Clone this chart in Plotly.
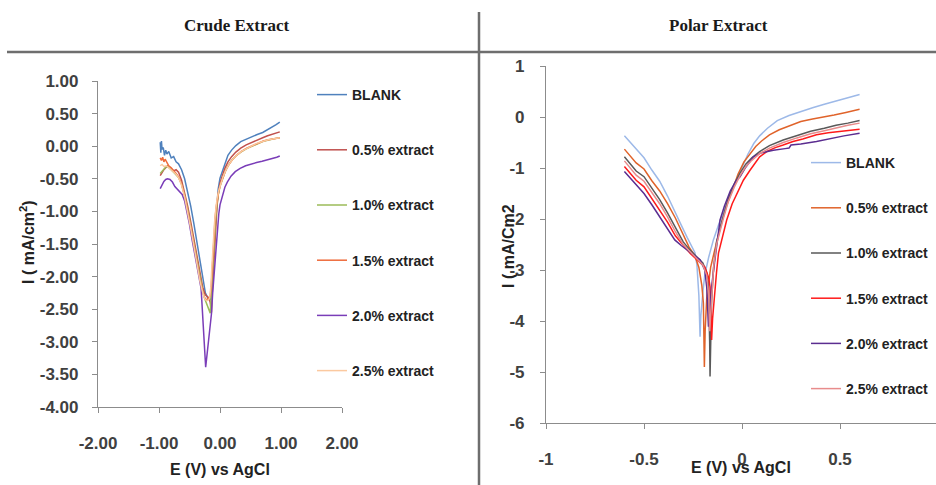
import plotly.graph_objects as go

W, H = 936, 485

# ---------------- Crude Extract (left) ----------------
crude_names = ["BLANK", "0.5% extract", "1.0% extract", "1.5% extract", "2.0% extract", "2.5% extract"]
crude_colors = ["#4F81BD", "#C0504D", "#9BBB59", "#EE6A3A", "#7A3DB8", "#FBC9A0"]

crude_blank_E = [-0.98,-0.97,-0.96,-0.95,-0.93,-0.91,-0.89,-0.87,-0.84,-0.80,-0.76,-0.72,-0.68,-0.63,-0.58,-0.53,-0.48,-0.43,-0.38,-0.33,-0.28,-0.24,-0.20,-0.17,-0.15,-0.13,-0.11,-0.09,-0.07,-0.05,-0.03,0.00,0.04,0.08,0.13,0.19,0.26,0.34,0.43,0.52,0.61,0.70,0.78,0.85,0.92,0.98]
crude_blank_I = [0.06,-0.10,0.08,-0.05,-0.02,-0.14,-0.06,-0.12,-0.08,-0.18,-0.16,-0.24,-0.27,-0.36,-0.50,-0.70,-0.92,-1.18,-1.45,-1.75,-2.05,-2.25,-2.33,-2.36,-2.34,-2.10,-1.75,-1.38,-1.08,-0.85,-0.66,-0.49,-0.38,-0.25,-0.14,-0.06,0.01,0.07,0.11,0.15,0.18,0.21,0.25,0.29,0.33,0.37]

crude_05_E = [-0.98,-0.95,-0.92,-0.89,-0.86,-0.83,-0.80,-0.76,-0.72,-0.68,-0.63,-0.58,-0.53,-0.48,-0.43,-0.38,-0.33,-0.28,-0.24,-0.21,-0.18,-0.16,-0.14,-0.13,-0.11,-0.09,-0.07,-0.05,-0.03,0.00,0.04,0.08,0.13,0.19,0.26,0.34,0.43,0.52,0.61,0.70,0.78,0.85,0.92,0.98]
crude_05_I = [-0.45,-0.40,-0.36,-0.33,-0.30,-0.32,-0.35,-0.38,-0.36,-0.40,-0.52,-0.70,-0.92,-1.16,-1.42,-1.70,-1.98,-2.18,-2.28,-2.31,-2.33,-2.40,-2.55,-2.30,-1.90,-1.50,-1.18,-0.93,-0.74,-0.57,-0.45,-0.34,-0.24,-0.16,-0.09,-0.03,0.02,0.06,0.10,0.13,0.16,0.18,0.20,0.22]

crude_10_E = [-0.98,-0.95,-0.92,-0.89,-0.86,-0.83,-0.80,-0.76,-0.72,-0.68,-0.63,-0.58,-0.53,-0.48,-0.43,-0.38,-0.33,-0.28,-0.25,-0.22,-0.19,-0.17,-0.16,-0.15,-0.13,-0.11,-0.09,-0.07,-0.05,-0.03,0.00,0.04,0.08,0.13,0.19,0.26,0.34,0.43,0.52,0.61,0.70,0.78,0.85,0.92,0.98]
crude_10_I = [-0.42,-0.38,-0.34,-0.32,-0.31,-0.33,-0.36,-0.40,-0.44,-0.48,-0.58,-0.75,-0.97,-1.22,-1.48,-1.76,-2.02,-2.24,-2.34,-2.42,-2.50,-2.55,-2.56,-2.40,-2.05,-1.68,-1.35,-1.10,-0.90,-0.75,-0.62,-0.50,-0.40,-0.30,-0.22,-0.15,-0.09,-0.04,0.00,0.04,0.07,0.09,0.11,0.12,0.13]

crude_15_E = [-0.98,-0.96,-0.94,-0.92,-0.90,-0.87,-0.84,-0.80,-0.76,-0.72,-0.68,-0.63,-0.58,-0.53,-0.48,-0.43,-0.38,-0.33,-0.28,-0.25,-0.22,-0.20,-0.18,-0.16,-0.14,-0.12,-0.10,-0.08,-0.06,-0.04,-0.02,0.01,0.05,0.09,0.14,0.20,0.27,0.35,0.44,0.53,0.62,0.71,0.79,0.86,0.93,0.98]
crude_15_I = [-0.18,-0.22,-0.17,-0.24,-0.20,-0.26,-0.30,-0.33,-0.37,-0.42,-0.47,-0.58,-0.76,-0.98,-1.24,-1.50,-1.78,-2.04,-2.25,-2.33,-2.36,-2.34,-2.32,-2.30,-2.10,-1.70,-1.35,-1.10,-0.92,-0.79,-0.69,-0.58,-0.47,-0.38,-0.29,-0.21,-0.14,-0.08,-0.03,0.01,0.05,0.08,0.10,0.11,0.12,0.13]

crude_20_E = [-0.98,-0.95,-0.92,-0.89,-0.86,-0.82,-0.78,-0.74,-0.70,-0.66,-0.62,-0.58,-0.54,-0.50,-0.46,-0.42,-0.38,-0.34,-0.31,-0.235,-0.14,-0.12,-0.10,-0.08,-0.06,-0.04,-0.02,0.00,0.04,0.08,0.12,0.18,0.25,0.33,0.42,0.51,0.60,0.69,0.78,0.86,0.93,0.98]
crude_20_I = [-0.65,-0.58,-0.54,-0.51,-0.50,-0.51,-0.55,-0.62,-0.66,-0.70,-0.74,-0.84,-1.00,-1.20,-1.42,-1.64,-1.86,-2.05,-2.18,-3.39,-2.57,-2.25,-1.98,-1.70,-1.45,-1.22,-1.04,-0.90,-0.74,-0.63,-0.55,-0.46,-0.39,-0.34,-0.30,-0.27,-0.25,-0.23,-0.21,-0.19,-0.17,-0.15]

crude_25_E = [-0.98,-0.95,-0.92,-0.88,-0.84,-0.80,-0.76,-0.72,-0.68,-0.63,-0.58,-0.53,-0.48,-0.43,-0.38,-0.33,-0.28,-0.25,-0.22,-0.19,-0.17,-0.15,-0.13,-0.11,-0.09,-0.07,-0.05,-0.02,0.01,0.05,0.09,0.14,0.20,0.27,0.35,0.44,0.53,0.62,0.71,0.79,0.86,0.93,0.98]
crude_25_I = [-0.30,-0.28,-0.31,-0.30,-0.33,-0.36,-0.39,-0.43,-0.48,-0.60,-0.78,-1.00,-1.26,-1.52,-1.80,-2.06,-2.26,-2.34,-2.37,-2.36,-2.33,-2.15,-1.80,-1.45,-1.18,-0.98,-0.82,-0.68,-0.58,-0.47,-0.38,-0.29,-0.21,-0.14,-0.08,-0.03,0.01,0.05,0.08,0.10,0.11,0.12,0.13]

crude_E = [crude_blank_E, crude_05_E, crude_10_E, crude_15_E, crude_20_E, crude_25_E]
crude_I = [crude_blank_I, crude_05_I, crude_10_I, crude_15_I, crude_20_I, crude_25_I]

# ---------------- Polar Extract (right) ----------------
polar_names = ["BLANK", "0.5% extract", "1.0% extract", "1.5% extract", "2.0% extract", "2.5% extract"]
polar_colors = ["#9DB9E8", "#E0632A", "#595959", "#FF1A1A", "#5B2D90", "#E88C8C"]

polar_blank_E = [-0.60,-0.57,-0.54,-0.50,-0.46,-0.42,-0.38,-0.34,-0.31,-0.28,-0.26,-0.24,-0.23,-0.22,-0.214,-0.21,-0.20,-0.19,-0.17,-0.146,-0.12,-0.09,-0.06,-0.03,0.00,0.03,0.06,0.09,0.13,0.18,0.24,0.30,0.36,0.42,0.48,0.54,0.60]
polar_blank_I = [-0.37,-0.50,-0.64,-0.80,-1.04,-1.26,-1.55,-1.86,-2.12,-2.36,-2.52,-2.66,-2.90,-3.50,-4.31,-3.90,-3.45,-3.10,-2.75,-2.41,-2.12,-1.80,-1.52,-1.25,-0.98,-0.73,-0.52,-0.37,-0.22,-0.07,0.03,0.11,0.18,0.25,0.31,0.38,0.44]

polar_05_E = [-0.60,-0.57,-0.54,-0.50,-0.46,-0.42,-0.38,-0.34,-0.30,-0.27,-0.24,-0.22,-0.205,-0.197,-0.192,-0.188,-0.18,-0.17,-0.16,-0.14,-0.12,-0.10,-0.08,-0.05,-0.02,0.01,0.04,0.07,0.10,0.14,0.19,0.25,0.30,0.36,0.42,0.47,0.53,0.60]
polar_05_I = [-0.63,-0.76,-0.90,-1.02,-1.25,-1.45,-1.70,-1.98,-2.30,-2.55,-2.72,-2.95,-3.30,-3.65,-4.90,-4.20,-3.55,-3.20,-2.95,-2.62,-2.30,-2.02,-1.76,-1.42,-1.12,-0.88,-0.72,-0.58,-0.47,-0.35,-0.25,-0.16,-0.09,-0.04,0.00,0.04,0.09,0.15]

polar_10_E = [-0.60,-0.57,-0.54,-0.50,-0.46,-0.42,-0.38,-0.34,-0.30,-0.265,-0.23,-0.20,-0.18,-0.171,-0.165,-0.163,-0.16,-0.155,-0.145,-0.13,-0.11,-0.09,-0.07,-0.04,-0.01,0.02,0.05,0.09,0.14,0.21,0.28,0.35,0.42,0.48,0.54,0.60]
polar_10_I = [-0.78,-0.92,-1.06,-1.17,-1.40,-1.62,-1.88,-2.18,-2.45,-2.61,-2.75,-2.86,-3.05,-3.33,-4.40,-5.09,-4.50,-3.60,-2.95,-2.45,-2.15,-1.86,-1.60,-1.32,-1.10,-0.92,-0.80,-0.68,-0.56,-0.45,-0.36,-0.28,-0.22,-0.16,-0.12,-0.07]

polar_15_E = [-0.60,-0.57,-0.54,-0.50,-0.46,-0.42,-0.38,-0.34,-0.30,-0.265,-0.23,-0.19,-0.17,-0.163,-0.158,-0.155,-0.15,-0.14,-0.13,-0.12,-0.10,-0.078,-0.05,-0.02,0.007,0.04,0.07,0.09,0.13,0.17,0.21,0.26,0.31,0.38,0.44,0.50,0.55,0.60]
polar_15_I = [-0.97,-1.10,-1.24,-1.37,-1.60,-1.82,-2.06,-2.33,-2.52,-2.67,-2.80,-2.94,-3.15,-3.33,-3.90,-4.37,-3.95,-3.45,-3.05,-2.67,-2.35,-2.02,-1.70,-1.45,-1.24,-1.05,-0.88,-0.78,-0.67,-0.60,-0.55,-0.48,-0.43,-0.35,-0.31,-0.28,-0.26,-0.24]

polar_20_E = [-0.60,-0.57,-0.54,-0.50,-0.46,-0.41,-0.37,-0.343,-0.31,-0.28,-0.25,-0.214,-0.19,-0.18,-0.171,-0.165,-0.155,-0.14,-0.125,-0.112,-0.09,-0.06,-0.03,-0.01,0.02,0.058,0.10,0.16,0.22,0.24,0.25,0.30,0.38,0.45,0.52,0.60]
polar_20_I = [-1.07,-1.20,-1.34,-1.50,-1.72,-2.02,-2.26,-2.41,-2.52,-2.61,-2.70,-2.80,-3.00,-3.33,-4.11,-3.80,-3.33,-2.85,-2.40,-2.02,-1.75,-1.45,-1.25,-1.17,-0.98,-0.78,-0.70,-0.65,-0.62,-0.61,-0.55,-0.53,-0.48,-0.42,-0.37,-0.32]

polar_25_E = [-0.60,-0.57,-0.54,-0.50,-0.46,-0.42,-0.38,-0.34,-0.30,-0.265,-0.23,-0.20,-0.18,-0.17,-0.165,-0.16,-0.155,-0.145,-0.13,-0.11,-0.09,-0.07,-0.04,-0.01,0.02,0.05,0.09,0.14,0.21,0.28,0.35,0.42,0.48,0.54,0.60]
polar_25_I = [-0.86,-1.00,-1.14,-1.26,-1.48,-1.70,-1.96,-2.25,-2.50,-2.64,-2.78,-2.90,-3.10,-3.50,-4.20,-3.85,-3.40,-2.95,-2.50,-2.20,-1.92,-1.66,-1.38,-1.15,-0.97,-0.85,-0.72,-0.61,-0.50,-0.41,-0.33,-0.27,-0.21,-0.16,-0.12]

polar_E = [polar_blank_E, polar_05_E, polar_10_E, polar_15_E, polar_20_E, polar_25_E]
polar_I = [polar_blank_I, polar_05_I, polar_10_I, polar_15_I, polar_20_I, polar_25_I]

# tick labels (plain hyphen minus, as in the original)
crude_xticks = [-2, -1, 0, 1, 2]
crude_xticktext = ["-2.00", "-1.00", "0.00", "1.00", "2.00"]
crude_yticks = [1, 0.5, 0, -0.5, -1, -1.5, -2, -2.5, -3, -3.5, -4]
crude_yticktext = ["1.00", "0.50", "0.00", "-0.50", "-1.00", "-1.50", "-2.00", "-2.50", "-3.00", "-3.50", "-4.00"]
polar_xticks = [-1, -0.5, 0, 0.5]
polar_xticktext = ["-1", "-0.5", "0", "0.5"]
polar_yticks = [1, 0, -1, -2, -3, -4, -5, -6]
polar_yticktext = ["1", "0", "-1", "-2", "-3", "-4", "-5", "-6"]

# ---------------- figure ----------------
fig = go.Figure()

for i in range(6):
    fig.add_trace(go.Scatter(
        x=crude_E[i], y=crude_I[i], mode="lines", name=crude_names[i],
        line=dict(color=crude_colors[i], width=1.5),
        xaxis="x", yaxis="y", legend="legend", legendgroup="c%d" % i))

for i in range(6):
    fig.add_trace(go.Scatter(
        x=polar_E[i], y=polar_I[i], mode="lines", name=polar_names[i],
        line=dict(color=polar_colors[i], width=1.5),
        xaxis="x2", yaxis="y2", legend="legend2", legendgroup="p%d" % i))

def px_x(p):
    return p / W

def px_y(p):
    return 1 - p / H

tickfont = dict(family="Liberation Sans", size=17, color="#404040", weight="bold")
axis_common = dict(showline=True, linecolor="#8C8C8C", linewidth=1.2, ticks="outside",
                   ticklen=5, tickcolor="#8C8C8C", showgrid=False, zeroline=False,
                   automargin=False, tickfont=tickfont)

fig.update_layout(
    template="none",
    width=W, height=H,
    margin=dict(l=0, r=0, t=0, b=0, pad=0),
    paper_bgcolor="white", plot_bgcolor="white",
    showlegend=True,
    xaxis=dict(domain=[px_x(98), px_x(342)], range=[-2, 2], tickvals=crude_xticks,
               ticktext=crude_xticktext, anchor="y", ticklabelstandoff=15, **axis_common),
    yaxis=dict(domain=[px_y(407), px_y(81)], range=[-4, 1], tickvals=crude_yticks,
               ticktext=crude_yticktext, anchor="x", ticklabelstandoff=10, **axis_common),
    xaxis2=dict(domain=[px_x(546), 1.0], range=[-1, 1 - 2 / 196], tickvals=polar_xticks,
                ticktext=polar_xticktext, anchor="y2", ticklabelstandoff=15, **axis_common),
    yaxis2=dict(domain=[px_y(423), px_y(66)], range=[-6, 1], tickvals=polar_yticks,
                ticktext=polar_yticktext, anchor="x2", ticklabelstandoff=12, **axis_common),
    legend=dict(x=px_x(312), y=px_y(79), xanchor="left", yanchor="top",
                bgcolor="rgba(0,0,0,0)", tracegroupgap=34,
                font=dict(family="Liberation Sans", size=14, color="#222", weight="bold")),
    legend2=dict(x=px_x(806), y=px_y(147), xanchor="left", yanchor="top",
                 bgcolor="rgba(0,0,0,0)", tracegroupgap=24,
                 font=dict(family="Liberation Sans", size=14, color="#222", weight="bold")),
)

# table borders
border = dict(color="#6E6E6E", width=2.5)
fig.add_shape(type="line", xref="paper", yref="paper", x0=px_x(7), x1=1.0,
              y0=px_y(52), y1=px_y(52), line=border)
fig.add_shape(type="line", xref="paper", yref="paper", x0=px_x(479), x1=px_x(479),
              y0=0, y1=px_y(12), line=border)

head_font = dict(family="Liberation Serif", size=17, color="#1A1A1A", weight="bold")
title_font = dict(family="Liberation Sans", size=16, color="#222", weight="bold")

annots = [
    dict(text="Crude Extract", x=px_x(237), y=px_y(25), font=head_font),
    dict(text="Polar Extract", x=px_x(718), y=px_y(25), font=head_font),
    dict(text="E (V) vs AgCl", x=px_x(220), y=px_y(469), font=title_font),
    dict(text="E (V) vs AgCl", x=px_x(741), y=px_y(467), font=title_font),
    dict(text="I ( mA/cm<sup>2</sup>)", x=px_x(27), y=px_y(242), font=title_font, textangle=-90),
    dict(text="I ( mA/Cm2", x=px_x(508), y=px_y(246), font=title_font, textangle=-90),
]
for a in annots:
    fig.add_annotation(xref="paper", yref="paper", showarrow=False,
                       xanchor="center", yanchor="middle", **a)

fig.write_html("out.html", config={"displayModeBar": False},
               post_script="document.body.style.margin='0px';document.body.style.overflow='hidden';")
